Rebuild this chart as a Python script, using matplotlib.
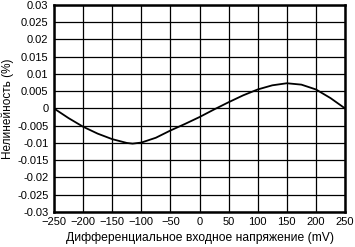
import matplotlib
matplotlib.use("Agg")
import matplotlib.pyplot as plt

plt.rcParams['font.family'] = ['Liberation Sans', 'DejaVu Sans']

# values
vin = [-250, -225, -200, -175, -150, -125, -115, -100, -75, -50, -25,
       0, 25, 50, 75, 100, 125, 150, 175, 200, 225, 250]
nonlin = [0.0, -0.0028, -0.0053, -0.0073, -0.0089, -0.0100, -0.0102, -0.0099,
          -0.0085, -0.0064, -0.0045, -0.0025, -0.0003, 0.0018, 0.0038, 0.0055,
          0.0067, 0.0073, 0.0069, 0.0055, 0.0030, 0.0]

xticks = list(range(-250, 251, 50))
yticks = [-0.03, -0.025, -0.02, -0.015, -0.01, -0.005, 0,
          0.005, 0.01, 0.015, 0.02, 0.025, 0.03]
ylabels = ['-0.03', '-0.025', '-0.02', '-0.015', '-0.01', '-0.005', '0',
           '0.005', '0.01', '0.015', '0.02', '0.025', '0.03']

fig = plt.figure(figsize=(3.55, 2.47), dpi=100)
ax = fig.add_axes([0.152, 0.142, 0.82, 0.838])

ax.plot(vin, nonlin, color='black', linewidth=1.3)
ax.set_xlim(-250, 250)
ax.set_ylim(-0.03, 0.03)
ax.set_xticks(xticks)
ax.set_yticks(yticks)
ax.set_yticklabels(ylabels)
ax.grid(True, color='black', linewidth=0.9)
ax.tick_params(length=0, labelsize=8, pad=4)
for s in ax.spines.values():
    s.set_linewidth(1.8)

ax.set_xlabel('Дифференциальное входное напряжение (mV)', fontsize=8.7, labelpad=3)
ax.set_ylabel('Нелинейность (%)', fontsize=8.5, labelpad=2)

fig.savefig('out.png', dpi=100)
